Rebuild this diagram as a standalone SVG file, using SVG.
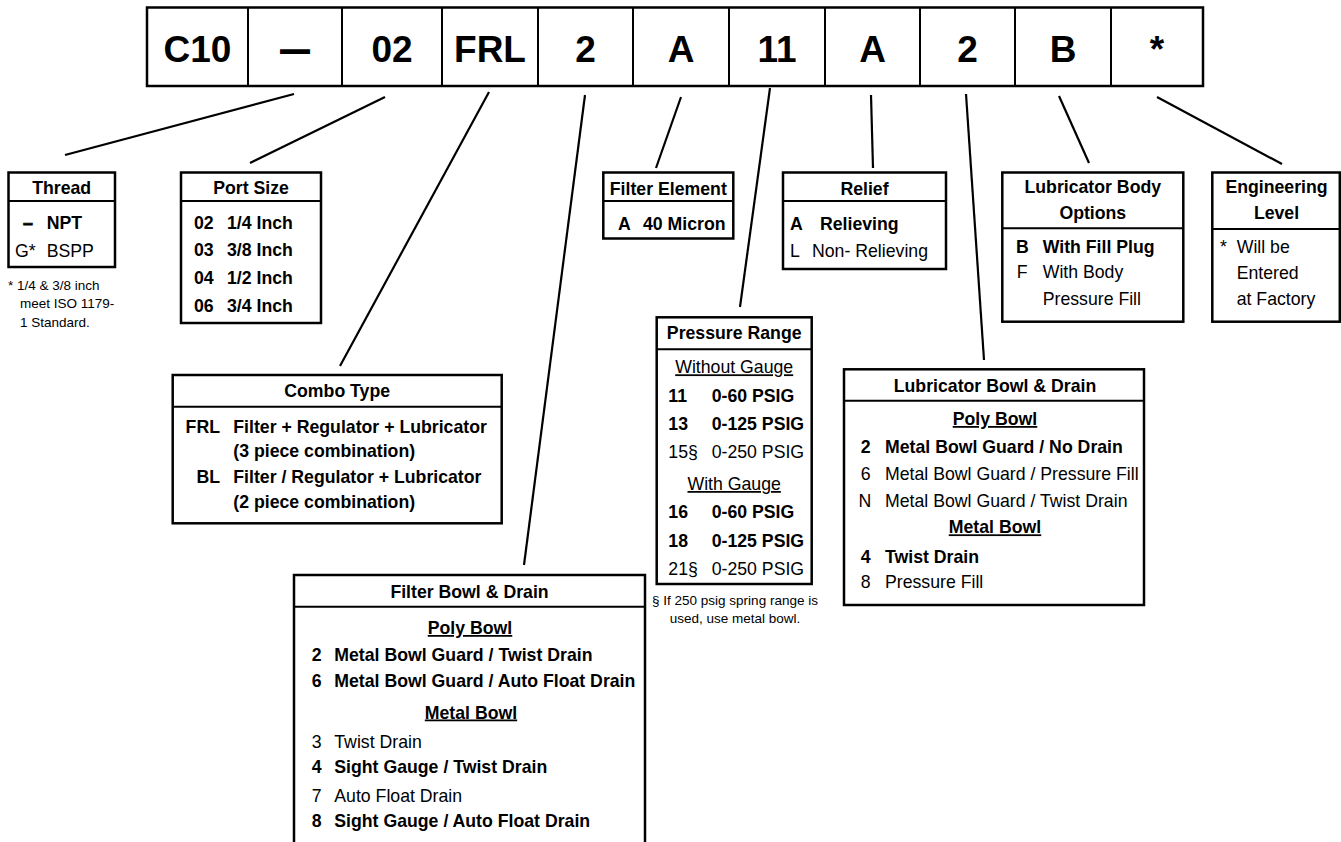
<svg xmlns="http://www.w3.org/2000/svg" width="1341" height="842" viewBox="0 0 1341 842">
<style>
text{font-family:"Liberation Sans",Arial,Helvetica,sans-serif;font-size:17.7px;fill:#000}
.b{font-weight:bold}
.h{font-weight:bold;text-anchor:middle}
.m{text-anchor:middle}
.e{text-anchor:end}
.u{text-decoration:underline}
.big{font-size:37px;font-weight:bold;text-anchor:middle}
.fn{font-size:13.5px}
.box{fill:#fff;stroke:#000;stroke-width:2.5}
.sep{stroke:#000;stroke-width:2}
.conn line{stroke:#000;stroke-width:2.2;stroke-linecap:butt}
</style>
<rect width="1341" height="842" fill="#fff"/>

<g id="code">
<rect class="box" x="147" y="7.5" width="1056" height="78.5"/>
<line class="sep" x1="248" y1="7.5" x2="248" y2="86"/>
<line class="sep" x1="342" y1="7.5" x2="342" y2="86"/>
<line class="sep" x1="442" y1="7.5" x2="442" y2="86"/>
<line class="sep" x1="538" y1="7.5" x2="538" y2="86"/>
<line class="sep" x1="633" y1="7.5" x2="633" y2="86"/>
<line class="sep" x1="729" y1="7.5" x2="729" y2="86"/>
<line class="sep" x1="825" y1="7.5" x2="825" y2="86"/>
<line class="sep" x1="920" y1="7.5" x2="920" y2="86"/>
<line class="sep" x1="1015" y1="7.5" x2="1015" y2="86"/>
<line class="sep" x1="1111" y1="7.5" x2="1111" y2="86"/>
<text class="big" x="197.5" y="61.5">C10</text>
<text class="big" x="295" y="59" style="font-size:28px;stroke:#000;stroke-width:2">—</text>
<text class="big" x="392" y="61.5">02</text>
<text class="big" x="490" y="61.5">FRL</text>
<text class="big" x="585.5" y="61.5">2</text>
<text class="big" x="681" y="61.5">A</text>
<text class="big" x="777" y="61.5">11</text>
<text class="big" x="872.5" y="61.5">A</text>
<text class="big" x="967.5" y="61.5">2</text>
<text class="big" x="1063" y="61.5">B</text>
<text class="big" x="1157" y="61.5">*</text>
</g>

<g class="conn" id="connectors">
<line x1="294" y1="94" x2="65" y2="155"/>
<line x1="385" y1="97" x2="250" y2="163"/>
<line x1="489" y1="92" x2="340" y2="366"/>
<line x1="585" y1="95" x2="524" y2="565"/>
<line x1="681" y1="97" x2="656" y2="168"/>
<line x1="770" y1="88" x2="740" y2="307"/>
<line x1="871" y1="95" x2="873" y2="168"/>
<line x1="966" y1="94" x2="984" y2="360"/>
<line x1="1059" y1="96" x2="1089" y2="163"/>
<line x1="1157" y1="97" x2="1282" y2="164"/>
</g>

<g id="thread">
<rect class="box" x="8.5" y="172.5" width="106.5" height="94.5"/>
<line class="sep" x1="8.5" y1="201" x2="115" y2="201"/>
<text class="h" x="61.7" y="193.5">Thread</text>
<text class="b" x="23" y="228.5" style="stroke:#000;stroke-width:0.8">–</text>
<text class="b" x="46.7" y="228.5">NPT</text>
<text x="15" y="256.5">G*</text>
<text x="46.7" y="256.5">BSPP</text>
<text class="fn" x="8" y="290">* 1/4 &amp; 3/8 inch</text>
<text class="fn" x="20" y="308.3">meet ISO 1179-</text>
<text class="fn" x="20" y="326.5">1 Standard.</text>
</g>

<g id="port-size">
<rect class="box" x="181" y="172.5" width="140" height="150.5"/>
<line class="sep" x1="181" y1="201" x2="321" y2="201"/>
<text class="h" x="251" y="193.5">Port Size</text>
<text class="b" x="194" y="228.5">02</text><text class="b" x="227" y="228.5">1/4 Inch</text>
<text class="b" x="194" y="256.3">03</text><text class="b" x="227" y="256.3">3/8 Inch</text>
<text class="b" x="194" y="284">04</text><text class="b" x="227" y="284">1/2 Inch</text>
<text class="b" x="194" y="311.7">06</text><text class="b" x="227" y="311.7">3/4 Inch</text>
</g>

<g id="combo-type">
<rect class="box" x="172.7" y="375" width="329" height="148.3"/>
<line class="sep" x1="172.7" y1="406.7" x2="501.7" y2="406.7"/>
<text class="h" x="337.2" y="397.3">Combo Type</text>
<text class="b e" x="220" y="432.5">FRL</text>
<text class="b" x="233.3" y="432.5">Filter + Regulator + Lubricator</text>
<text class="b" x="233.3" y="457">(3 piece combination)</text>
<text class="b e" x="220" y="483">BL</text>
<text class="b" x="233.3" y="483">Filter / Regulator + Lubricator</text>
<text class="b" x="233.3" y="508.3">(2 piece combination)</text>
</g>

<g id="filter-bowl">
<rect class="box" x="294" y="575" width="351" height="280"/>
<line class="sep" x1="294" y1="606.7" x2="645" y2="606.7"/>
<text class="h" x="469.5" y="598.3">Filter Bowl &amp; Drain</text>
<text class="h u" x="470" y="634">Poly Bowl</text>
<text class="b" x="311.7" y="660.5">2</text><text class="b" x="334.3" y="660.5">Metal Bowl Guard / Twist Drain</text>
<text class="b" x="311.7" y="686.7">6</text><text class="b" x="334.3" y="686.7">Metal Bowl Guard / Auto Float Drain</text>
<text class="h u" x="471" y="718.5">Metal Bowl</text>
<text x="311.7" y="747.5">3</text><text x="334.3" y="747.5">Twist Drain</text>
<text class="b" x="311.7" y="773.3">4</text><text class="b" x="334.3" y="773.3">Sight Gauge / Twist Drain</text>
<text x="311.7" y="801.5">7</text><text x="334.3" y="801.5">Auto Float Drain</text>
<text class="b" x="311.7" y="827.3">8</text><text class="b" x="334.3" y="827.3">Sight Gauge / Auto Float Drain</text>
</g>

<g id="filter-element">
<rect class="box" x="603.3" y="172.5" width="130" height="66"/>
<line class="sep" x1="603.3" y1="201" x2="733.3" y2="201"/>
<text class="h" x="668.3" y="194.5">Filter Element</text>
<text class="b" x="618" y="230">A</text>
<text class="b" x="643" y="230">40 Micron</text>
</g>

<g id="relief">
<rect class="box" x="783" y="172.5" width="163" height="96.5"/>
<line class="sep" x1="783" y1="201" x2="946" y2="201"/>
<text class="h" x="864.5" y="194.5">Relief</text>
<text class="b" x="790" y="229.5">A</text>
<text class="b" x="820" y="229.5">Relieving</text>
<text x="790" y="256.5">L</text>
<text x="812" y="256.5">Non- Relieving</text>
</g>

<g id="pressure-range">
<rect class="box" x="656.7" y="317.3" width="155" height="266.7"/>
<line class="sep" x1="656.7" y1="349.3" x2="811.7" y2="349.3"/>
<text class="h" x="734.2" y="339.3">Pressure Range</text>
<text class="m u" x="734.2" y="373.3">Without Gauge</text>
<text class="b" x="668.3" y="401.7">11</text><text class="b" x="711.7" y="401.7">0-60 PSIG</text>
<text class="b" x="668.3" y="430">13</text><text class="b" x="711.7" y="430">0-125 PSIG</text>
<text x="668.3" y="458.3">15§</text><text x="711.7" y="458.3">0-250 PSIG</text>
<text class="m u" x="734.2" y="490">With Gauge</text>
<text class="b" x="668.3" y="518.3">16</text><text class="b" x="711.7" y="518.3">0-60 PSIG</text>
<text class="b" x="668.3" y="546.7">18</text><text class="b" x="711.7" y="546.7">0-125 PSIG</text>
<text x="668.3" y="575">21§</text><text x="711.7" y="575">0-250 PSIG</text>
<text class="fn m" x="735" y="605">§ If 250 psig spring range is</text>
<text class="fn m" x="735" y="623.3">used, use metal bowl.</text>
</g>

<g id="lubricator-bowl">
<rect class="box" x="844" y="369.3" width="300" height="235.7"/>
<line class="sep" x1="844" y1="400.7" x2="1144" y2="400.7"/>
<text class="h" x="995" y="391.7">Lubricator Bowl &amp; Drain</text>
<text class="h u" x="995" y="425">Poly Bowl</text>
<text class="b" x="860.7" y="452.7">2</text><text class="b" x="885" y="452.7">Metal Bowl Guard / No Drain</text>
<text x="860.7" y="480">6</text><text x="885" y="480">Metal Bowl Guard / Pressure Fill</text>
<text x="858.5" y="506.7">N</text><text x="885" y="506.7">Metal Bowl Guard / Twist Drain</text>
<text class="h u" x="995" y="533.3">Metal Bowl</text>
<text class="b" x="860.7" y="563.3">4</text><text class="b" x="885" y="563.3">Twist Drain</text>
<text x="860.7" y="588.3">8</text><text x="885" y="588.3">Pressure Fill</text>
</g>

<g id="lubricator-body">
<rect class="box" x="1002.3" y="172.5" width="181" height="149.2"/>
<line class="sep" x1="1002.3" y1="228.3" x2="1183.3" y2="228.3"/>
<text class="h" x="1092.8" y="193.3">Lubricator Body</text>
<text class="h" x="1092.8" y="219.3">Options</text>
<text class="b" x="1016" y="253.3">B</text><text class="b" x="1042.7" y="253.3">With Fill Plug</text>
<text x="1016.7" y="278.3">F</text><text x="1042.7" y="278.3">With Body</text>
<text x="1042.7" y="305">Pressure Fill</text>
</g>

<g id="engineering-level">
<rect class="box" x="1212.3" y="172.5" width="127.5" height="149.2"/>
<line class="sep" x1="1212.3" y1="229" x2="1341" y2="229"/>
<text class="h" x="1276.5" y="193.3">Engineering</text>
<text class="h" x="1276.5" y="219.3">Level</text>
<text x="1220" y="253.3">*</text><text x="1236.7" y="253.3">Will be</text>
<text x="1236.7" y="279.3">Entered</text>
<text x="1236.7" y="305">at Factory</text>
</g>
</svg>
